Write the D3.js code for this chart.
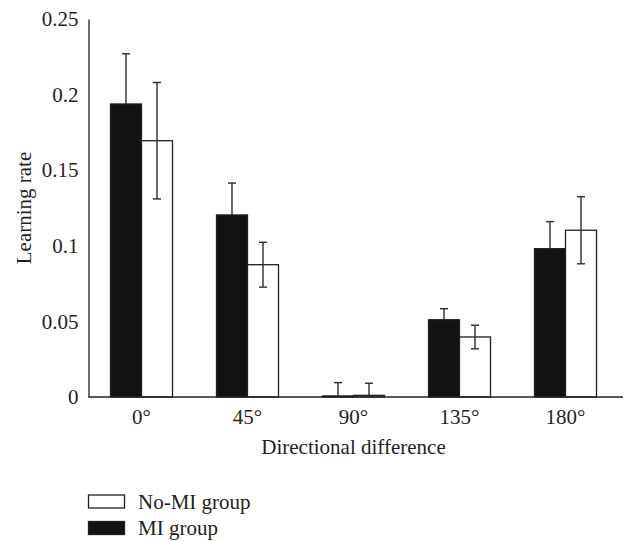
<!DOCTYPE html>
<html>
<head>
<meta charset="utf-8">
<script src="https://cdn.jsdelivr.net/npm/d3@7"></script>
<style>
  body { margin: 0; background: #fff; }
  text { font-family: "Liberation Serif", "DejaVu Serif", serif; fill: #231f20; }
</style>
</head>
<body>
<div id="chart"></div>
<script>
// data
let categories = ["0°", "45°", "90°", "135°", "180°"];
let miMean = [0.1938, 0.1204, 0.0007, 0.0511, 0.0981];
let miErr = [0.0332, 0.0211, 0.0088, 0.0073, 0.0179];
let noMiMean = [0.1695, 0.0875, 0.0011, 0.0397, 0.1103];
let noMiErr = [0.0385, 0.0148, 0.0080, 0.0078, 0.0222];
let yTicks = [0, 0.05, 0.1, 0.15, 0.2, 0.25];
let legendItems = [
  { name: "No-MI group", fill: "#fff" },
  { name: "MI group", fill: "#13120e" }
];

let width = 624, height = 541;
let margin = { left: 88.5, right: 5.5, top: 19, bottom: 144 };
let fontSize = 21;

let svg = d3.select("#chart").append("svg")
  .attr("width", width)
  .attr("height", height);

let x = d3.scaleBand().domain(categories).range([margin.left, 618.5]).paddingInner(0);
let y = d3.scaleLinear().domain([0, 0.25]).range([397, margin.top]);
let barW = 31;

// y axis (line only, no ticks)
let yAxis = svg.append("g")
  .attr("transform", "translate(" + margin.left + ",0)")
  .call(d3.axisLeft(y).tickValues(yTicks).tickSize(0).tickPadding(10)
    .tickFormat(d => d === 0 ? "0" : String(+d.toFixed(2))));
yAxis.select(".domain").attr("stroke", "#231f20").attr("stroke-width", 1.3);
yAxis.selectAll("text").attr("font-size", fontSize).attr("fill", "#231f20").attr("font-family", "Liberation Serif, serif");

let series = [
  { mean: miMean, err: miErr, fill: "#13120e", dx: -barW, upOnly: true },
  { mean: noMiMean, err: noMiErr, fill: "#fff", dx: 0, upOnly: false }
];

series.forEach(s => {
  let g = svg.append("g");
  categories.forEach((c, i) => {
    let cx = x(c) + x.bandwidth() / 2 + s.dx;
    g.append("rect")
      .attr("x", cx)
      .attr("y", y(s.mean[i]))
      .attr("width", barW)
      .attr("height", y(0) - y(s.mean[i]))
      .attr("fill", s.fill)
      .attr("stroke", "#231f20")
      .attr("stroke-width", 1.3);
  });
});

// error bars drawn over the bars (lower half hidden inside the black bars)
series.forEach(s => {
  let g = svg.append("g").attr("stroke", "#2b2b2b").attr("stroke-width", 1.4);
  categories.forEach((c, i) => {
    let mx = x(c) + x.bandwidth() / 2 + s.dx + barW / 2;
    let top = y(s.mean[i] + s.err[i]);
    let low = s.mean[i] - s.err[i];
    let bot = s.upOnly ? y(s.mean[i]) : y(Math.max(0, low));
    g.append("line").attr("x1", mx).attr("x2", mx).attr("y1", top).attr("y2", bot);
    g.append("line").attr("x1", mx - 4).attr("x2", mx + 4).attr("y1", top).attr("y2", top);
    if (!s.upOnly && low > 0)
      g.append("line").attr("x1", mx - 4).attr("x2", mx + 4).attr("y1", bot).attr("y2", bot);
  });
});

// x axis
let xAxis = svg.append("g")
  .attr("transform", "translate(0," + y(0) + ")")
  .call(d3.axisBottom(x).tickSize(0).tickPadding(12));
xAxis.select(".domain").remove();
xAxis.selectAll("text").attr("font-size", fontSize).attr("fill", "#231f20").attr("font-family", "Liberation Serif, serif");
svg.append("line")
  .attr("x1", margin.left).attr("x2", 623)
  .attr("y1", y(0)).attr("y2", y(0))
  .attr("stroke", "#231f20").attr("stroke-width", 1.3);

// axis titles
svg.append("text")
  .attr("x", (margin.left + 618.5) / 2)
  .attr("y", 454)
  .attr("text-anchor", "middle")
  .attr("font-size", fontSize)
  .text("Directional difference");

svg.append("text")
  .attr("transform", "translate(31," + (y(0) + y(0.25)) / 2 + ") rotate(-90)")
  .attr("text-anchor", "middle")
  .attr("font-size", fontSize)
  .text("Learning rate");

// legend
let legend = svg.append("g");
legendItems.forEach((d, i) => {
  let ly = 495 + i * 26.5;
  legend.append("rect")
    .attr("x", 88.5).attr("y", ly)
    .attr("width", 36).attr("height", 13)
    .attr("fill", d.fill)
    .attr("stroke", "#231f20").attr("stroke-width", 1.3);
  legend.append("text")
    .attr("x", 138).attr("y", ly + 13.5)
    .attr("font-size", fontSize)
    .text(d.name);
});
</script>
</body>
</html>
